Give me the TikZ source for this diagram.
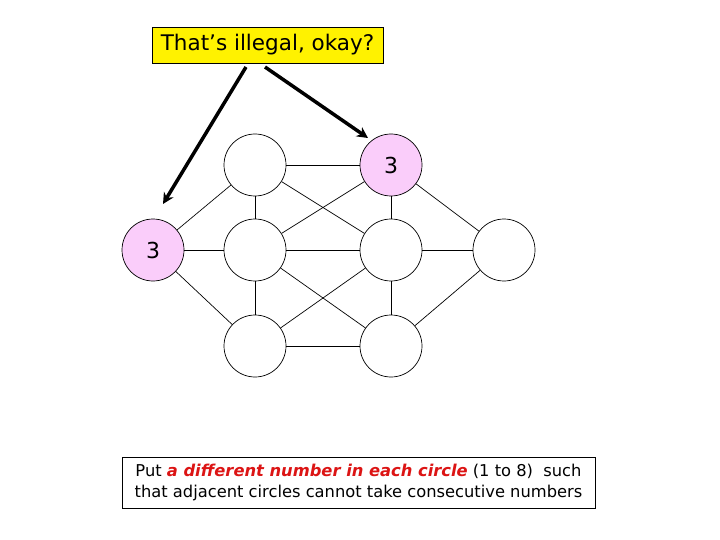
\documentclass[tikz,border=0pt]{standalone}
\usepackage{fontspec}
\setmainfont{DejaVu Sans}
\usetikzlibrary{arrows.meta}
\definecolor{pinkfill}{RGB}{250,205,250}
\definecolor{redtxt}{RGB}{220,20,20}
\begin{document}
\begin{tikzpicture}[x=1pt,y=-1pt,
  dot/.style={circle,draw=black,line width=0.7pt,fill=white,minimum size=62pt,inner sep=0pt,font=\fontsize{22}{26}\selectfont},
  marked/.style={dot,fill=pinkfill},
  edge/.style={line width=0.7pt},
  bigarrow/.style={line width=3.5pt,-{Stealth[length=11pt,width=11pt]}}]
\useasboundingbox (0,0) rectangle (720,540);
\node[dot] (a) at (255,165) {};
\node[marked] (b) at (391,165) {3};
\node[marked] (c) at (153,250) {3};
\node[dot] (d) at (255,250) {};
\node[dot] (e) at (391,250) {};
\node[dot] (f) at (504,250) {};
\node[dot] (g) at (255,346) {};
\node[dot] (h) at (391,346) {};
\draw[edge] (a) -- (b);
\draw[edge] (a) -- (c);
\draw[edge] (a) -- (d);
\draw[edge] (a) -- (e);
\draw[edge] (b) -- (d);
\draw[edge] (b) -- (e);
\draw[edge] (b) -- (f);
\draw[edge] (c) -- (d);
\draw[edge] (c) -- (g);
\draw[edge] (d) -- (e);
\draw[edge] (d) -- (g);
\draw[edge] (d) -- (h);
\draw[edge] (e) -- (f);
\draw[edge] (e) -- (g);
\draw[edge] (e) -- (h);
\draw[edge] (f) -- (h);
\draw[edge] (g) -- (h);
\node[draw=black,line width=0.7pt,fill=yellow,minimum width=231pt,minimum height=36pt,inner sep=0pt,font=\fontsize{21.5}{26}\selectfont] (t) at (267.5,45) {That’s illegal, okay?};
\coordinate (s1) at (246,67);
\coordinate (s2) at (265,67);
\draw[bigarrow] (s1) -- (163,204);
\draw[bigarrow] (s2) -- (368,138);
\node[draw=black,line width=0.7pt,fill=white,minimum width=473pt,minimum height=51pt,inner sep=0pt,align=center,font=\fontsize{16.3}{21}\selectfont] (n) at (358.5,482.5) {Put \textcolor{redtxt}{\textbf{\textit{a different number in each circle}}} (1 to 8)\ \ such\\that adjacent circles cannot take consecutive numbers};
\end{tikzpicture}
\end{document}
